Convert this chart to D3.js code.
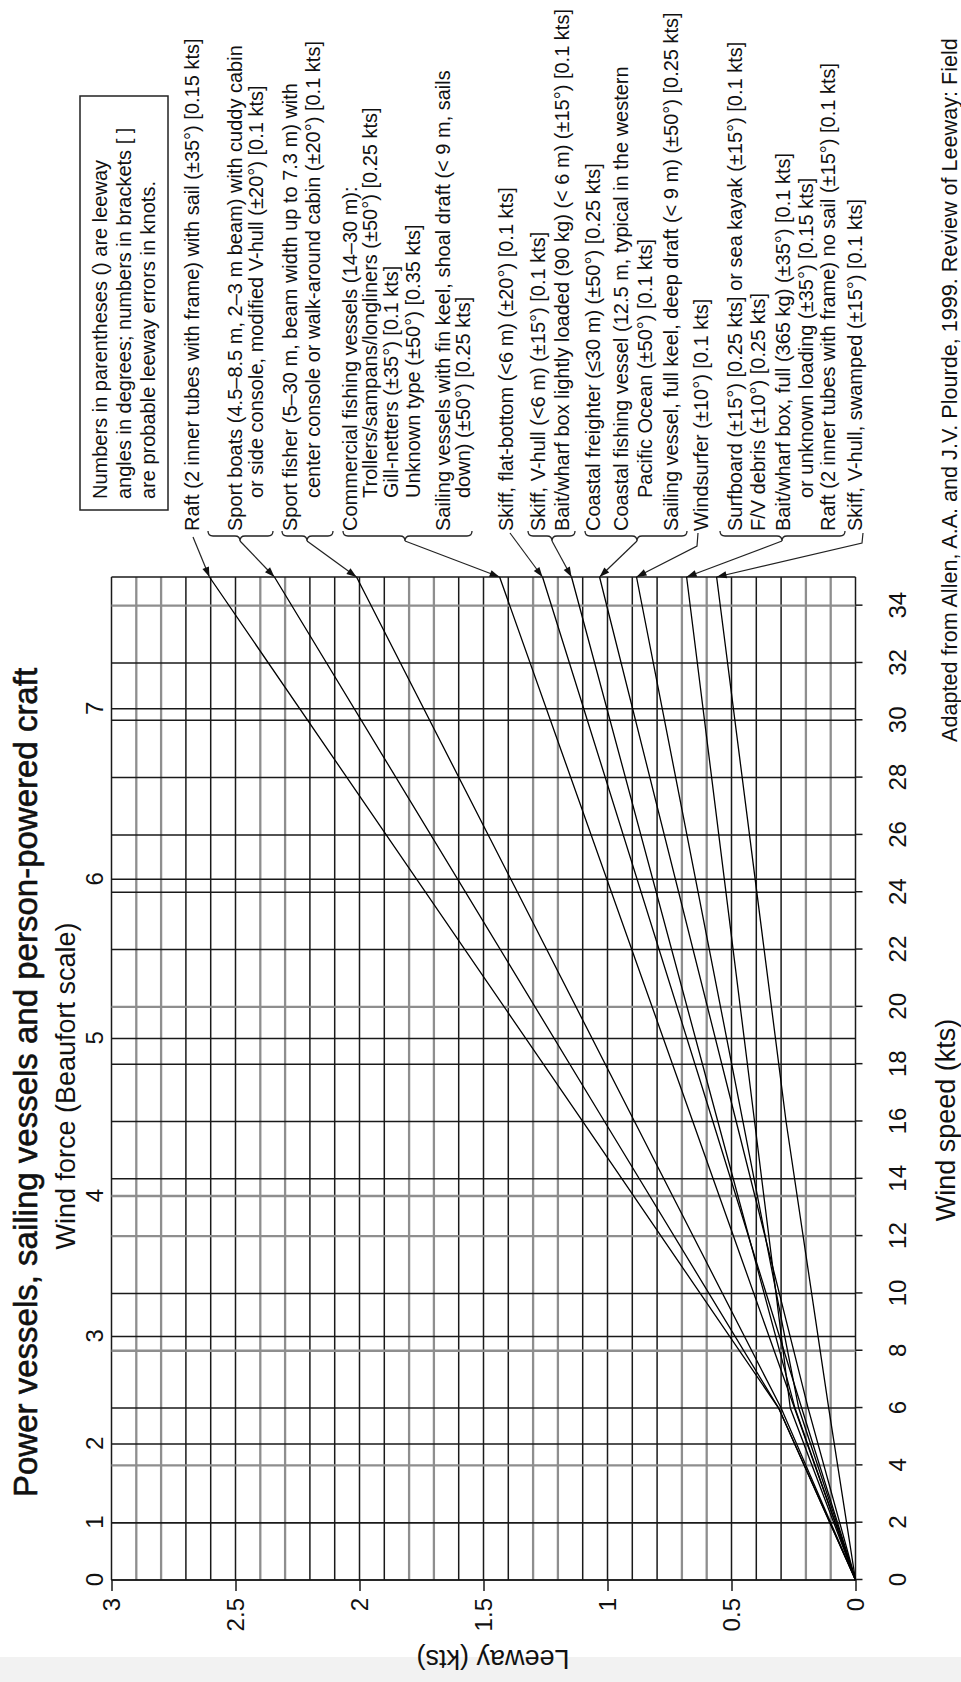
<!DOCTYPE html>
<html><head><meta charset="utf-8">
<script src="https://cdn.jsdelivr.net/npm/d3@7"></script>
<style>html,body{margin:0;padding:0;background:#fff;} svg{display:block;}</style>
</head><body>
<svg id="chart" width="961" height="1682"></svg>
<script>
// ---------------- DATA ----------------
const windTicks = [0,2,4,6,8,10,12,14,16,18,20,22,24,26,28,30,32,34];
const beaufortTicks = [0,1,2,3,4,5,6,7];
const beaufortWind = [0,2,4.75,8.5,13.4,18.9,24.45,30.4];
const leewayTicks = [0,0.5,1,1.5,2,2.5,3];
const leewayTickLabels = ["0","0.5","1","1.5","2","2.5","3"];
const windPoints = [0,6,16,35];
const raftSail      = [0,0.31,1.10,2.605];
const sportBoats    = [0,0.31,1.012,2.343];
const sportFisher   = [0,0.30,0.891,2.012];
const commercial    = [0,0.246,0.656,1.435];
const skiffFlat     = [0,0.217,0.575,1.262];
const skiffVhull    = [0,0.244,0.555,1.145];
const coastal       = [0,0.191,0.481,1.032];
const windsurfer    = [0,0.229,0.454,0.883];
const surfboard     = [0,0.263,0.407,0.681];
const skiffSwamped  = [0,0.108,0.28,0.560];
const seriesList = [raftSail,sportBoats,sportFisher,commercial,skiffFlat,skiffVhull,coastal,windsurfer,surfboard,skiffSwamped];

const labelGroups = [
 ["Raft (2 inner tubes with frame) with sail (\u00b135\u00b0) [0.15 kts]"],
 ["Sport boats (4.5\u20138.5 m, 2\u20133 m beam) with cuddy cabin","or side console, modified V-hull (\u00b120\u00b0) [0.1 kts]"],
 ["Sport fisher (5\u201330 m, beam width up to 7.3 m) with","center console or walk-around cabin (\u00b120\u00b0) [0.1 kts]"],
 ["Commercial fishing vessels (14\u201330 m):","Trollers/sampans/longliners (\u00b150\u00b0) [0.25 kts]","Gill-netters (\u00b135\u00b0) [0.1 kts]","Unknown type (\u00b150\u00b0) [0.35 kts]","Sailing vessels with fin keel, shoal draft (< 9 m, sails","down) (\u00b150\u00b0) [0.25 kts]"],
 ["Skiff, flat-bottom (<6 m) (\u00b120\u00b0) [0.1 kts]"],
 ["Skiff, V-hull (<6 m) (\u00b115\u00b0) [0.1 kts]","Bait/wharf box lightly loaded (90 kg) (< 6 m) (\u00b115\u00b0) [0.1 kts]"],
 ["Coastal freighter (\u226430 m) (\u00b150\u00b0) [0.25 kts]","Coastal fishing vessel (12.5 m, typical in the western","Pacific Ocean (\u00b150\u00b0) [0.1 kts]","Sailing vessel, full keel, deep draft (< 9 m) (\u00b150\u00b0) [0.25 kts]"],
 ["Windsurfer (\u00b110\u00b0) [0.1 kts]"],
 ["Surfboard (\u00b115\u00b0) [0.25 kts] or sea kayak (\u00b115\u00b0) [0.1 kts]","F/V debris (\u00b110\u00b0) [0.25 kts]","Bait/wharf box, full (365 kg) (\u00b135\u00b0) [0.1 kts]","or unknown loading (\u00b135\u00b0) [0.15 kts]","Raft (2 inner tubes with frame) no sail (\u00b115\u00b0) [0.1 kts]"],
 ["Skiff, V-hull, swamped (\u00b115\u00b0) [0.1 kts]"]
];
const labelIndent = [[0],[0,1],[0,1],[0,1,1,1,0,1],[0],[0,0],[0,0,1,0],[0],[0,0,0,1,0],[0]];
const noteLines = ["Numbers in parentheses () are leeway","angles in degrees; numbers in brackets [ ]","are probable leeway errors in knots."];
const titleText = "Power vessels, sailing vessels and person-powered craft";
const subtitleText = "Wind force (Beaufort scale)";
const xTitleText = "Wind speed (kts)";
const yTitleText = "Leeway (kts)";
const sourceText = "Adapted from Allen, A.A. and J.V. Plourde, 1999. Review of Leeway: Field";

// ---------------- STYLE / LAYOUT ----------------
const W = 961, H = 1682;
const FONT = "'Liberation Sans', Arial, Helvetica, sans-serif";
const INK = "#111";
const DARK = "#1a1a1a", GREY = "#8e8e8e";
// grid lines that appear lighter (scan resampling) in the original
const greyLeewayLines = [0.1,0.2,0.6,0.7,1.2,1.3,1.7,1.8,2.3,2.4,2.8,2.9];
const greyWindLines = [4,8,12,13.4,20,34];
const isGrey = (list,v) => list.some(t => Math.abs(t - v) < 1e-6);

const svg = d3.select("#chart");
svg.append("rect").attr("x",0).attr("y",0).attr("width",W).attr("height",H).attr("fill","#fff");
svg.append("rect").attr("x",0).attr("y",1657).attr("width",W).attr("height",H-1657).attr("fill","#f2f2f2");

// rotated frame: (u,v) -> display (v, H-u)
const g = svg.append("g").attr("transform",`translate(0,${H}) rotate(-90)`);
const P = (X,Y) => [H - Y, X];   // display -> frame

const x = d3.scaleLinear().domain([0,35]).range([102,1105]);
const y = d3.scaleLinear().domain([0,3]).range([855.5,111.5]);

// grid: leeway lines every 0.1
const leewayGrid = d3.range(0,31).map(k => Math.round(k)/10);
g.append("g").selectAll("line").data(leewayGrid).join("line")
  .attr("x1",x(0)).attr("x2",x(35))
  .attr("y1",d=>y(d)).attr("y2",d=>y(d))
  .attr("stroke",d=>isGrey(greyLeewayLines,d)?GREY:DARK)
  .attr("stroke-width",d=>isGrey(greyLeewayLines,d)?2.3:1.5);
// wind lines every 2 kts + border + Beaufort
const windGrid = windTicks.concat([35]).concat(beaufortWind);
g.append("g").selectAll("line").data(windGrid).join("line")
  .attr("x1",d=>x(d)).attr("x2",d=>x(d))
  .attr("y1",y(0)).attr("y2",y(3))
  .attr("stroke",d=>isGrey(greyWindLines,d)?GREY:DARK)
  .attr("stroke-width",d=>isGrey(greyWindLines,d)?2.3:1.5);

// axes
const axB = g.append("g").attr("transform",`translate(0,${y(0)})`)
  .call(d3.axisBottom(x).tickValues(windTicks).tickSize(7).tickPadding(26).tickFormat(d3.format("d")));
const axL = g.append("g").attr("transform",`translate(${x(0)},0)`)
  .call(d3.axisLeft(y).tickValues(leewayTicks).tickSize(11).tickPadding(7).tickFormat((d,i)=>leewayTickLabels[i]));
const axT = g.append("g").attr("transform",`translate(0,${y(3)})`)
  .call(d3.axisTop(x).tickValues(beaufortWind).tickSize(0).tickPadding(8.5).tickFormat((d,i)=>beaufortTicks[i]));
[axB,axL,axT].forEach(a=>{
  a.select(".domain").remove();
  a.selectAll("line").attr("stroke",DARK).attr("stroke-width",1.5);
  a.selectAll("text").attr("font-family",FONT).attr("font-size",24).attr("fill",INK);
});

// data lines
const line = d3.line().x((d,i)=>x(windPoints[i])).y(d=>y(d));
g.append("g").selectAll("path").data(seriesList).join("path")
  .attr("d",d=>line(d)).attr("fill","none").attr("stroke","#000").attr("stroke-width",1.3);

// titles
g.append("text").attr("x",185).attr("y",37).attr("font-family",FONT).attr("font-size",33)
  .attr("fill",INK).attr("stroke",INK).attr("stroke-width",0.6).text(titleText);
g.append("text").attr("x",596).attr("y",75).attr("text-anchor","middle").attr("font-family",FONT)
  .attr("font-size",27).attr("fill",INK).text(subtitleText);
g.append("text").attr("x",562).attr("y",955).attr("text-anchor","middle").attr("font-family",FONT)
  .attr("font-size",27).attr("fill",INK).text(xTitleText);
g.append("text").attr("transform",`translate(32,493) rotate(-90)`).attr("text-anchor","middle")
  .attr("font-family",FONT).attr("font-size",27).attr("fill",INK).text(yTitleText);
g.append("text").attr("x",940).attr("y",957).attr("font-family",FONT).attr("font-size",21.6)
  .attr("fill",INK).text(sourceText);

// note box
const [bu0,bv0] = P(80,510);
g.append("rect").attr("x",bu0).attr("y",bv0).attr("width",414).attr("height",88)
  .attr("fill","none").attr("stroke","#222").attr("stroke-width",1.5);
const noteBase = [107,131,155];
noteLines.forEach((t,i)=>{
  g.append("text").attr("x",1183).attr("y",noteBase[i]).attr("font-family",FONT).attr("font-size",20)
   .attr("fill",INK).text(t);
});

// labels
const labelBase = [[199],[242,263],[297,320],[357,377,398,420,450,470],[513],[545,569],[600,628,652,678],[708],[742,765,790,813,835],[862]];
labelGroups.forEach((grp,gi)=>{
  grp.forEach((t,li)=>{
    g.append("text").attr("x", 1151 + (labelIndent[gi][li] ? 33 : 0)).attr("y", labelBase[gi][li])
     .attr("font-family",FONT).attr("font-size",20).attr("fill",INK).text(t);
  });
});

// brackets (display coords: from X, to X, tip X)
const brackets = [[208,273,240],[282,333,307],[343,472,405],[528,575,552],[585,687,637],[720,845,782]];
const Y0 = 536;
const pt = (X,Y)=>P(X,Y).join(",");
brackets.forEach(([a,b,t])=>{
  const d = `M${pt(a,Y0-5)}Q${pt(a,Y0)} ${pt(a+5,Y0)}L${pt(t-5,Y0)}Q${pt(t,Y0)} ${pt(t,Y0+5)}Q${pt(t,Y0)} ${pt(t+5,Y0)}L${pt(b-5,Y0)}Q${pt(b,Y0)} ${pt(b,Y0-5)}`;
  g.append("path").attr("d",d).attr("fill","none").attr("stroke","#222").attr("stroke-width",1.3);
});

// leaders: display-coordinate start points, ending at the top of each series
const leaderStarts = [[[193,537]],[[240,541]],[[307,541]],[[405,541]],[[510,533]],[[552,541]],[[637,541]],[[698,533],[697,546]],[[782,541]],[[863,533],[862,543]]];
seriesList.forEach((s,i)=>{
  const tip = [x(35), y(s[s.length-1])];
  const pts = leaderStarts[i].map(p=>P(p[0],p[1])).concat([tip]);
  g.append("path").attr("d",d3.line()(pts)).attr("fill","none").attr("stroke","#222").attr("stroke-width",1.2);
  const from = pts[pts.length-2];
  const dx=tip[0]-from[0], dy=tip[1]-from[1], L=Math.hypot(dx,dy), ux=dx/L, uy=dy/L;
  const len=10, w=3.5, bx=tip[0]-ux*len, by=tip[1]-uy*len;
  g.append("path").attr("d",`M${tip[0]},${tip[1]}L${bx-uy*w},${by+ux*w}L${bx+uy*w},${by-ux*w}Z`).attr("fill","#111");
});
</script>
</body></html>
